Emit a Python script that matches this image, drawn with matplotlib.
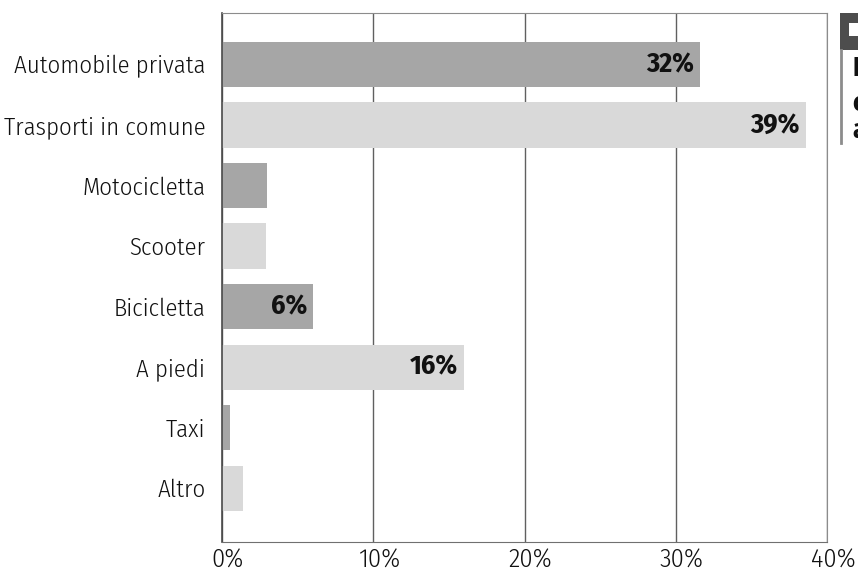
import matplotlib
matplotlib.use("Agg")
import matplotlib.pyplot as plt
from matplotlib.patches import Rectangle
import matplotlib.transforms as mtransforms

categories = ["Automobile privata", "Trasporti in comune", "Motocicletta", "Scooter",
              "Bicicletta", "A piedi", "Taxi", "Altro"]
shares = [31.6, 38.6, 3.0, 2.9, 6.0, 16.0, 0.5, 1.4]
labelled = [True, True, False, False, True, True, False, False]
x_ticks = [0, 10, 20, 30, 40]
x_tick_labels = ["0%", "10%", "20%", "30%", "40%"]

dark_bar = "#a6a6a6"
light_bar = "#d9d9d9"
text_font = ["Fira Sans Condensed", "Open Sans"]
value_font = ["Fira Sans Condensed", "Open Sans"]

fig = plt.figure(figsize=(8.58, 5.73), dpi=100)
ax = fig.add_axes([222 / 858, 1 - 542 / 573, (827 - 222) / 858, (542 - 13) / 573])

ypos = list(range(len(categories)))
colors = [dark_bar if i % 2 == 0 else light_bar for i in ypos]
bars = ax.barh(ypos, shares, height=0.745, color=colors, zorder=2)

shift_left = mtransforms.ScaledTranslation(-6 / 100, 0, fig.dpi_scale_trans)
for bar, val, show in zip(bars, shares, labelled):
    if show:
        ax.text(val, bar.get_y() + bar.get_height() / 2, f"{val:.0f}%",
                ha="right", va="center", fontsize=20, fontweight="bold",
                family=value_font, color="#111111", zorder=3,
                transform=ax.transData + shift_left)

ax.set_xlim(0, 40)
ax.set_ylim(7.89, -0.85)
ax.set_yticks(ypos)
ax.set_yticklabels(categories, fontsize=17.8, family=text_font, fontweight=300, color="#111111")
ax.set_xticks(x_ticks)
ax.set_xticklabels(x_tick_labels, fontsize=19, family=text_font, fontweight=300, color="#111111")
ax.tick_params(axis="y", length=0, pad=12)
ax.tick_params(axis="x", length=0, pad=4)
shift_right = mtransforms.ScaledTranslation(6 / 100, 0, fig.dpi_scale_trans)
for lbl in ax.get_xticklabels():
    lbl.set_transform(lbl.get_transform() + shift_right)

ax.xaxis.grid(True, color="#606060", linewidth=1.0, zorder=0)
ax.set_axisbelow(True)
ax.spines["left"].set_color("#4a4a4a")
ax.spines["left"].set_linewidth(1.2)
ax.spines["bottom"].set_color("#707070")
for side in ("top", "right"):
    ax.spines[side].set_color("#8c8c8c")
for sp in ax.spines.values():
    sp.set_zorder(4)

# side panel beginning at the right edge
W, H = 858, 573
def fx(px):
    return px / W
def fy(py):
    return 1 - py / H

fig.patches.append(Rectangle((fx(840), fy(50)), fx(858) - fx(840), fy(13) - fy(50),
                             transform=fig.transFigure, facecolor="#4d4d4d", edgecolor="none"))
fig.patches.append(Rectangle((fx(849), fy(36)), fx(858) - fx(849), fy(23) - fy(36),
                             transform=fig.transFigure, facecolor="white", edgecolor="none"))
fig.add_artist(plt.Line2D([fx(841), fx(841)], [fy(50), fy(143)], transform=fig.transFigure,
                          color="#8c8c8c", linewidth=2))
for letter, py in zip(["I", "c", "a"], [68, 103, 130]):
    fig.text(fx(852), fy(py), letter, fontsize=19, fontweight="bold", family=value_font,
             color="#111111", ha="left", va="center")

fig.savefig("out.png", dpi=100)
